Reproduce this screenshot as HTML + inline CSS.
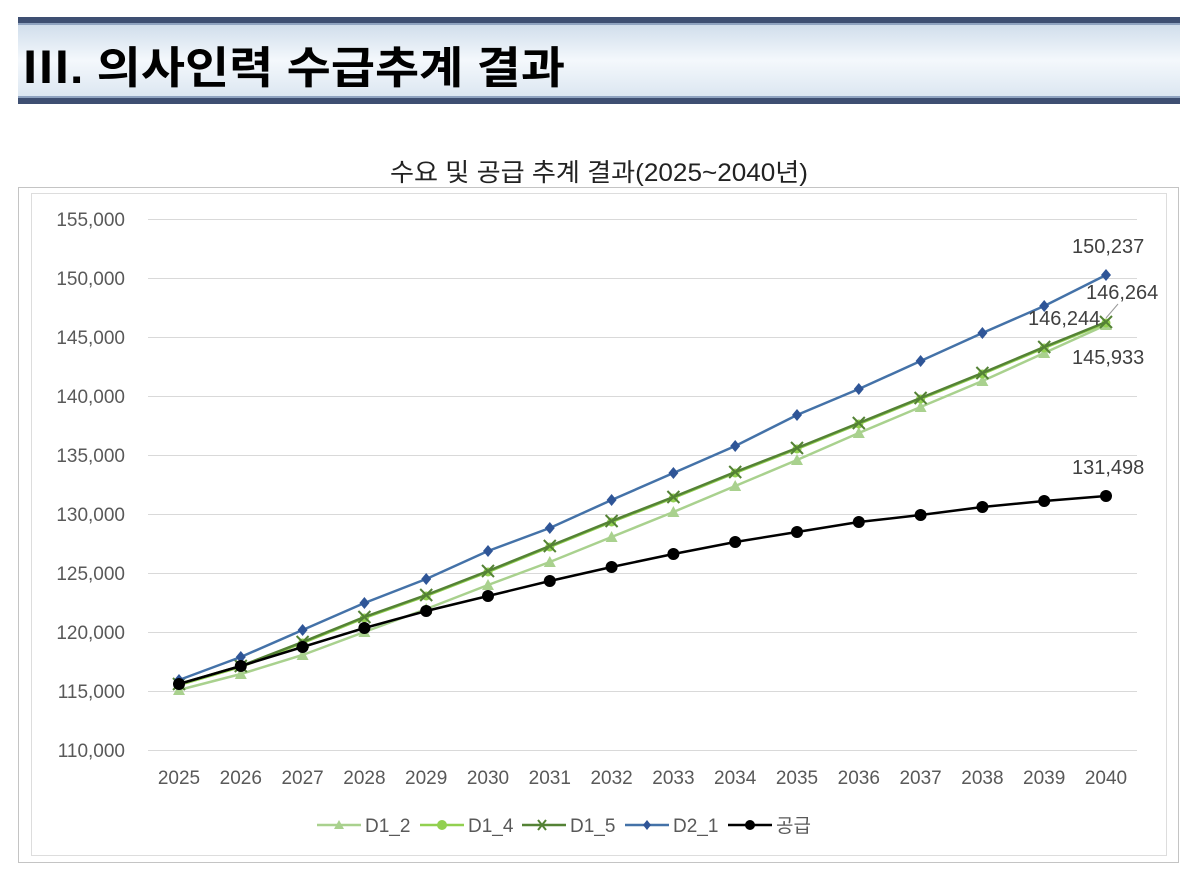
<!DOCTYPE html>
<html><head><meta charset="utf-8"><style>
body{margin:0;width:1200px;height:877px;background:#fff;overflow:hidden;font-family:"Liberation Sans","Noto Sans CJK KR",sans-serif}
</style></head><body>
<svg width="1200" height="877" xmlns="http://www.w3.org/2000/svg" style="position:absolute;left:0;top:0">
<defs><linearGradient id="g" x1="0" y1="0" x2="0" y2="1"><stop offset="0" stop-color="#c9d8e8"/><stop offset="0.5" stop-color="#f4f8fc"/><stop offset="1" stop-color="#d7e3ef"/></linearGradient></defs>
<rect x="18" y="17" width="1162" height="87" fill="url(#g)"/>
<rect x="18" y="17" width="1162" height="6" fill="#3e4f72"/>
<rect x="18" y="23" width="1162" height="2" fill="#8fa3c0"/>
<rect x="18" y="96" width="1162" height="2" fill="#8fa3c0"/>
<rect x="18" y="98" width="1162" height="6" fill="#3e4f72"/>
<text x="22" y="83" font-size="44" font-weight="bold" fill="#000" font-family="Liberation Sans,'Noto Sans CJK KR',sans-serif" textLength="543" lengthAdjust="spacingAndGlyphs">Ⅲ. 의사인력 수급추계 결과</text>
<text x="599" y="181" font-size="25" text-anchor="middle" fill="#222" textLength="418" lengthAdjust="spacingAndGlyphs">수요 및 공급 추계 결과(2025~2040년)</text>
<rect x="18.5" y="187.5" width="1160" height="675" fill="none" stroke="#888" stroke-dasharray="1,1"/>
<rect x="31.5" y="193.5" width="1135" height="662" fill="none" stroke="#ddd"/>
<g stroke="#d9d9d9" stroke-width="1">
<line x1="148" x2="1137" y1="219.5" y2="219.5"/><line x1="148" x2="1137" y1="278.5" y2="278.5"/><line x1="148" x2="1137" y1="337.5" y2="337.5"/><line x1="148" x2="1137" y1="396.5" y2="396.5"/><line x1="148" x2="1137" y1="455.5" y2="455.5"/><line x1="148" x2="1137" y1="514.5" y2="514.5"/><line x1="148" x2="1137" y1="573.5" y2="573.5"/><line x1="148" x2="1137" y1="632.5" y2="632.5"/><line x1="148" x2="1137" y1="691.5" y2="691.5"/><line x1="148" x2="1137" y1="750.5" y2="750.5"/>
</g>
<g font-size="19" fill="#595959" text-anchor="end">
<text x="125" y="226">155,000</text><text x="125" y="285">150,000</text><text x="125" y="344">145,000</text><text x="125" y="403">140,000</text><text x="125" y="462">135,000</text><text x="125" y="521">130,000</text><text x="125" y="580">125,000</text><text x="125" y="639">120,000</text><text x="125" y="698">115,000</text><text x="125" y="757">110,000</text>
</g>
<g font-size="19" fill="#595959" text-anchor="middle" id="xl"></g>
<g id="series"></g>
<g font-size="20" fill="#404040">
<text x="1072" y="253">150,237</text>
<text x="1086" y="299">146,264</text>
<text x="1028" y="325">146,244</text>
<text x="1072" y="364">145,933</text>
<text x="1072" y="474">131,498</text>
</g>
<line x1="1106" y1="318" x2="1118" y2="304" stroke="#999"/>
<g font-size="19" fill="#595959">
<line x1="317" x2="361" y1="825" y2="825" stroke="#a9d18e" stroke-width="2.5"/><path d="M339 820 L344 829 L334 829Z" fill="#a9d18e"/><text x="365" y="832">D1_2</text>
<line x1="420" x2="464" y1="825" y2="825" stroke="#92d050" stroke-width="2.5"/><circle cx="442" cy="825" r="5" fill="#92d050"/><text x="468" y="832">D1_4</text>
<line x1="522" x2="566" y1="825" y2="825" stroke="#548235" stroke-width="2.5"/><path d="M538 820 L546 830 M546 820 L538 830" stroke="#548235" stroke-width="2"/><text x="570" y="832">D1_5</text>
<line x1="625" x2="669" y1="825" y2="825" stroke="#4472a8" stroke-width="2.5"/><path d="M647 820 L651 825 L647 830 L643 825Z" fill="#2f5597"/><text x="673" y="832">D2_1</text>
<line x1="728" x2="772" y1="825" y2="825" stroke="#000" stroke-width="2.5"/><circle cx="750" cy="825" r="5" fill="#000"/><text x="776" y="832">공급</text>
</g>
</svg>
<script>
const NS="http://www.w3.org/2000/svg";
const X=i=>179+i*61.8;
const xl=document.getElementById('xl');
for(let i=0;i<16;i++){const t=document.createElementNS(NS,'text');t.setAttribute('x',X(i));t.setAttribute('y',784);t.textContent=2025+i;xl.appendChild(t);}
const S=[
{c:'#a9d18e',m:'tri',y:[690,674,655,632,609,585,562,537,512,486,460,433,407,381,353,325]},
{c:'#92d050',m:'cir',y:[685,667,643,618,596,572,547,522,498,473,449,424,399,374,348,323]},
{c:'#548235',m:'x',y:[684,666,642,617,595,571,546,521,497,472,448,423,398,373,347,322]},
{c:'#4472a8',m:'dia',mc:'#2f5597',y:[680,657,630,603,579,551,528,500,473,446,415,389,361,333,306,275]},
{c:'#000',m:'dot',y:[684,666,647,628,611,596,581,567,554,542,532,522,515,507,501,496]}];
const g=document.getElementById('series');
S.forEach(s=>{
 const p=document.createElementNS(NS,'polyline');
 p.setAttribute('points',s.y.map((y,i)=>X(i)+','+y).join(' '));
 p.setAttribute('fill','none');p.setAttribute('stroke',s.c);p.setAttribute('stroke-width',2.5);g.appendChild(p);
 s.y.forEach((y,i)=>{const x=X(i);let e;
  if(s.m=='tri'){e=document.createElementNS(NS,'path');e.setAttribute('d',`M${x} ${y-6}L${x+6} ${y+5}L${x-6} ${y+5}Z`);e.setAttribute('fill',s.c);}
  else if(s.m=='cir'){e=document.createElementNS(NS,'circle');e.setAttribute('cx',x);e.setAttribute('cy',y);e.setAttribute('r',4.5);e.setAttribute('fill',s.c);}
  else if(s.m=='dot'){e=document.createElementNS(NS,'circle');e.setAttribute('cx',x);e.setAttribute('cy',y);e.setAttribute('r',6);e.setAttribute('fill','#000');}
  else if(s.m=='x'){e=document.createElementNS(NS,'path');e.setAttribute('d',`M${x-6} ${y-6}L${x+6} ${y+6}M${x+6} ${y-6}L${x-6} ${y+6}`);e.setAttribute('stroke',s.c);e.setAttribute('stroke-width',2);}
  else {e=document.createElementNS(NS,'path');e.setAttribute('d',`M${x} ${y-6}L${x+5} ${y}L${x} ${y+6}L${x-5} ${y}Z`);e.setAttribute('fill',s.mc);}
  g.appendChild(e);});
});
</script>
</body></html>
